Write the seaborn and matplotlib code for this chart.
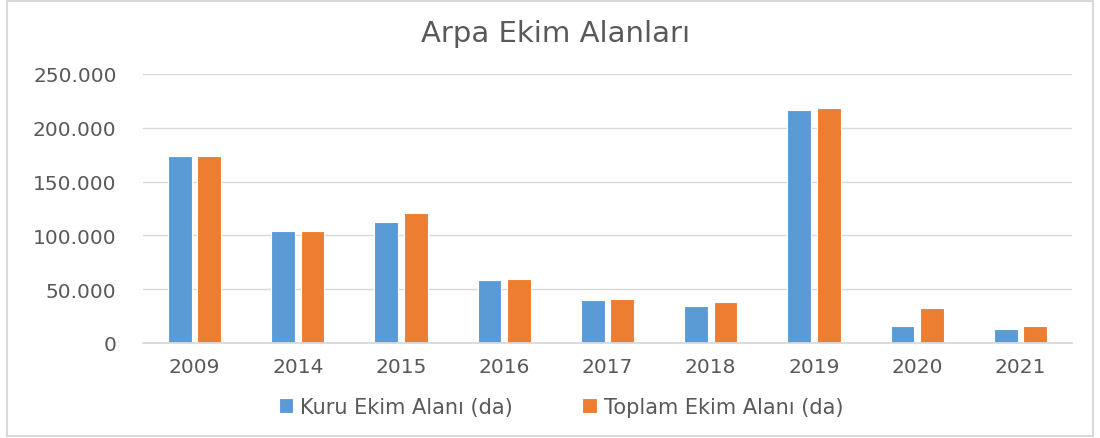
import matplotlib
matplotlib.use("Agg")
import matplotlib.pyplot as plt
from matplotlib.patches import Rectangle
from matplotlib.ticker import FuncFormatter
import pandas as pd
import seaborn as sns

# Barley sowing areas by year (decares)
years = ["2009", "2014", "2015", "2016", "2017", "2018", "2019", "2020", "2021"]
kuru = [174000, 104200, 112300, 59000, 40400, 34800, 216500, 15500, 12700]
toplam = [174000, 104200, 120400, 59900, 41300, 38500, 218400, 32300, 15500]
series_names = ["Kuru Ekim Alanı (da)", "Toplam Ekim Alanı (da)"]
title = "Arpa Ekim Alanları"

df = pd.DataFrame({
    "Yıl": years * 2,
    "Alan": kuru + toplam,
    "Seri": [series_names[0]] * len(years) + [series_names[1]] * len(years),
})

sns.set_theme(style="white")
plt.rcParams["font.family"] = ["DejaVu Sans"]
text_color = "#595959"
grid_color = "#D9D9D9"
label_size = 14.5

fig = plt.figure(figsize=(11, 4.39), dpi=100)
ax = fig.add_axes([143 / 1100, 1 - 344 / 439, (1072 - 143) / 1100, (344 - 75) / 439])

sns.barplot(
    data=df, x="Yıl", y="Alan", hue="Seri",
    palette=["#5B9BD5", "#ED7D31"], saturation=1,
    width=0.57, gap=0.19, edgecolor="white", linewidth=0.8,
    ax=ax, zorder=3,
)

ax.set_ylim(0, 250000)
ax.set_xlim(-0.5, len(years) - 0.5)
ax.set_yticks(range(0, 250001, 50000))
ax.yaxis.set_major_formatter(
    FuncFormatter(lambda v, _: "0" if v == 0 else f"{int(v):,}".replace(",", "."))
)
ax.grid(axis="y", color=grid_color, linewidth=1.0, zorder=0)
ax.grid(axis="x", visible=False)
for side in ["left", "right", "top"]:
    ax.spines[side].set_visible(False)
ax.spines["bottom"].set_color(grid_color)
ax.spines["bottom"].set_linewidth(1.3)
ax.spines["bottom"].set_zorder(4)

ax.set_xlabel("")
ax.set_ylabel("")
ax.tick_params(axis="y", length=0, pad=19, labelsize=label_size, labelcolor=text_color)
ax.tick_params(axis="x", length=0, pad=10, labelsize=label_size, labelcolor=text_color)

fig.text(0.505, 1 - 34 / 439, title, ha="center", va="center",
         fontsize=21, color=text_color)

sns.move_legend(
    ax, "center", bbox_to_anchor=(561 / 1100, 1 - 408 / 439),
    bbox_transform=fig.transFigure, ncol=2, frameon=False, title=None,
    fontsize=label_size + 0.5, handlelength=0.7, handleheight=0.7,
    handletextpad=0.35, columnspacing=3.3,
)
for t in ax.get_legend().get_texts():
    t.set_color(text_color)

# light chart frame
fig.patches.append(Rectangle((7 / 1100, 2 / 439), (1093 - 7) / 1100, (437 - 2) / 439,
                             transform=fig.transFigure, fill=False,
                             edgecolor=grid_color, linewidth=1.5))

fig.savefig("out.png", dpi=100)
